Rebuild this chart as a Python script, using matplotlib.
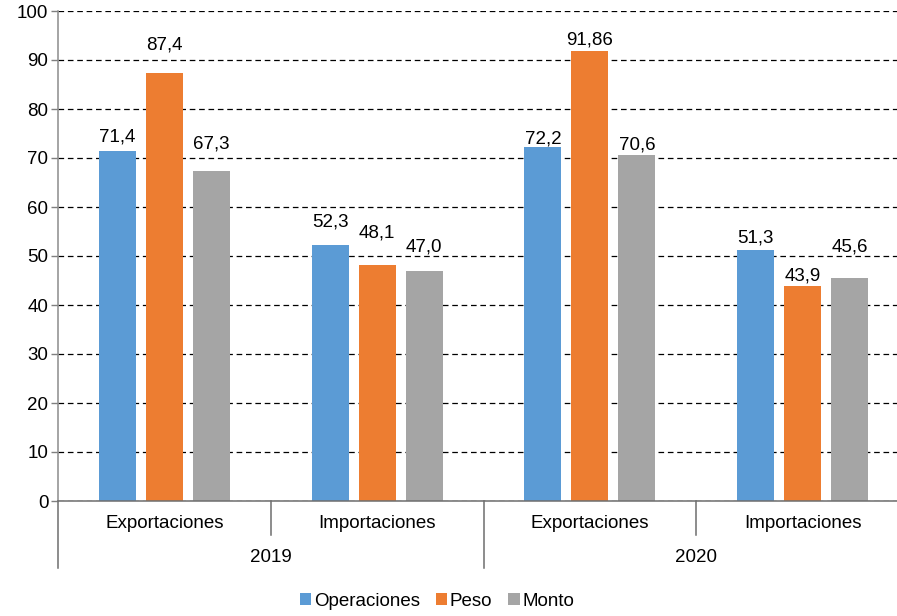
import numpy as np
import matplotlib
matplotlib.use("Agg")
import matplotlib.pyplot as plt
from matplotlib.patches import Patch

plt.rcParams['font.family'] = ['Liberation Sans', 'DejaVu Sans']

years = ['2019', '2020']
flows = ['Exportaciones', 'Importaciones']
series = ['Operaciones', 'Peso', 'Monto']
colors = ['#5B9BD5', '#ED7D31', '#A5A5A5']

# one row per (year, flow), columns follow the series order
operaciones = [71.4, 52.3, 72.2, 51.3]
peso = [87.4, 48.1, 91.86, 43.9]
monto = [67.3, 47.0, 70.6, 45.6]

# label lift above each bar top, in pixels
label_lift = [[14, 28, 27], [23, 32, 24], [8, 11, 10], [12, 10, 31]]

FS = 13.5


def fmt(v):
    s = f"{v:.1f}" if round(v, 1) == v else f"{v:.2f}"
    return s.replace('.', ',')


W, H = 897, 616
fig = plt.figure(figsize=(W / 100, H / 100), dpi=100)
# plot area runs a little past the right edge of the figure
ax = fig.add_axes([58 / W, 115 / H, 851 / W, 490 / H])

n_cat = len(years) * len(flows)
centers = np.arange(n_cat) + 0.5
step = 0.2207
width = 0.174
data = [operaciones, peso, monto]

for k, (name, vals) in enumerate(zip(series, data)):
    xs = centers + (k - 1) * step
    ax.bar(xs, vals, width=width, color=colors[k], zorder=2)
    for i, (x, v) in enumerate(zip(xs, vals)):
        ax.annotate(fmt(v), (x, v), xytext=(0, label_lift[i][k]),
                    textcoords='offset pixels', ha='center', va='center',
                    fontsize=FS, color='#000000')

ax.set_xlim(0, n_cat)
ax.set_ylim(0, 100)
ax.set_yticks(np.arange(0, 101, 10))
ax.yaxis.grid(True, color='black', linestyle=(0, (4.5, 3)), linewidth=0.9)
ax.set_axisbelow(True)
ax.tick_params(axis='y', direction='out', length=5, width=1, color='#7f7f7f',
               labelsize=FS, pad=2)
ax.set_xticks([])
for s in ['top', 'right']:
    ax.spines[s].set_visible(False)
ax.spines['left'].set_color('#8c8c8c')
ax.spines['bottom'].set_color('#6e6e6e')
ax.spines['left'].set_linewidth(1.1)
ax.spines['bottom'].set_linewidth(1.1)

# two-level category axis below the plot
trans = ax.get_xaxis_transform()
px = 1 / 490
short_y, long_y = -34 * px, -67 * px
for b in range(n_cat + 1):
    y_end = long_y if b % 2 == 0 else short_y
    ax.plot([b, b], [0, y_end], transform=trans, color='#6e6e6e', lw=1.1,
            clip_on=False)
for i, c in enumerate(centers):
    ax.text(c, -22 * px, flows[i % 2], transform=trans, ha='center',
            va='center', fontsize=FS)
for j, yr in enumerate(years):
    ax.text(2 * j + 1, -56 * px, yr, transform=trans, ha='center',
            va='center', fontsize=FS)

handles = [Patch(facecolor=c, edgecolor='none') for c in colors]
fig.legend(handles, series, loc='center', bbox_to_anchor=(437 / W, 15 / H),
           ncol=3, frameon=False, fontsize=FS, handlelength=0.6,
           handleheight=0.6, handletextpad=0.15, columnspacing=0.85)

fig.savefig('out.png', dpi=100)
